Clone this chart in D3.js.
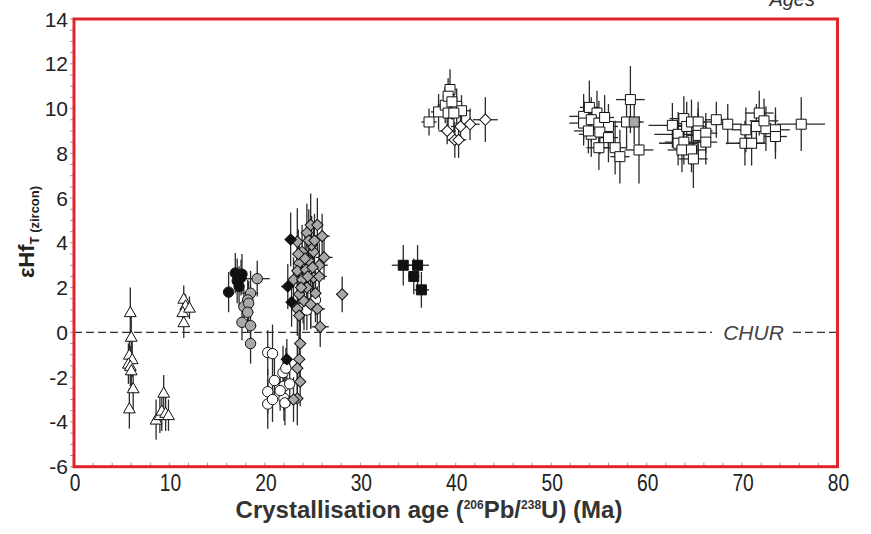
<!DOCTYPE html>
<html><head><meta charset="utf-8">
<script src="https://cdn.jsdelivr.net/npm/d3@7"></script>
<style>body{margin:0;background:#fff}svg{display:block}</style>
</head><body>
<svg id="c" width="871" height="534"></svg>
<script>
// ---- data: [age (Ma), eHf, ageErr, eHfErr] ----
const whiteTriangles = [
 [5.9,0.9,0.3,1.1],[6.0,-0.2,0.3,1.0],[5.8,-1.0,0.3,0.8],[6.1,-1.2,0.3,0.8],[5.7,-1.4,0.3,0.9],
 [5.9,-1.5,0.3,0.9],[6.0,-1.7,0.3,0.8],[6.2,-2.5,0.3,1.0],[5.8,-3.4,0.3,0.9],
 [8.6,-3.9,0.4,0.9],[9.0,-3.7,0.4,0.8],[9.2,-3.5,0.4,0.9],[9.4,-2.7,0.3,0.8],[9.6,-3.6,0.4,0.8],[9.9,-3.7,0.3,0.7],
 [11.5,1.5,0.3,0.6],[11.7,1.2,0.3,0.5],[11.4,0.9,0.3,0.6],[11.5,0.45,0.3,0.7],[12.1,1.1,0.3,0.5]
];
const blackCircles = [
 [16.2,1.8,0.4,0.9],[16.9,2.65,0.4,0.9],[17.6,2.6,0.4,0.9],[17.3,2.05,0.4,0.9],[17.1,2.3,0.3,1.0],[17.5,2.45,0.3,0.8]
];
const grayCircles = [
 [19.2,2.4,1.3,0.8],[18.5,1.75,0.8,1.0],[18.2,1.45,0.6,0.9],[17.8,1.15,0.5,0.8],[18.3,1.3,0.5,1.0],
 [18.2,0.9,0.6,0.9],[17.6,0.45,0.5,0.8],[18.5,0.3,0.6,0.9],[18.5,-0.5,0.5,0.9]
];
const whiteCircles = [
 [20.3,-0.9,0.5,1.0],[20.8,-0.95,0.5,1.3],[21.0,-2.15,0.5,1.0],[20.3,-2.65,0.5,1.0],[20.3,-3.2,0.5,1.1],
 [20.8,-3.0,0.5,1.0],[21.9,-1.8,0.4,1.2],[22.2,-1.6,0.4,0.9],[22.0,-2.4,0.4,1.1],[22.6,-2.3,0.5,1.0],
 [22.0,-2.95,0.4,1.0],[22.1,-3.15,0.4,1.0],[21.6,-2.6,0.4,0.9],
 [24.0,1.4,0.6,1.0],[24.8,1.3,0.5,1.1],[25.3,1.45,0.5,1.0],[23.7,1.05,0.5,1.0],[24.4,1.0,0.5,0.9]
];
const blackDiamonds = [
 [22.3,-1.2,0.4,0.9],[22.7,4.15,0.4,1.2],[22.4,2.05,0.7,1.0],[22.8,1.35,0.4,1.1]
];
const grayDiamonds = [
 [23.7,-0.5,0.4,1.3],[23.6,-1.2,0.4,1.2],[23.4,-1.6,0.4,1.1],[23.7,-2.2,0.4,1.1],[23.4,-2.95,0.4,1.2],[23.0,-3.0,0.4,1.0],
 [25.8,0.25,0.9,0.9],
 [24.8,4.8,0.6,1.4],[25.5,4.8,0.6,1.2],[26.0,4.3,0.8,1.0],[24.4,4.45,0.5,1.3],[23.4,4.05,0.5,1.5],
 [23.9,3.6,0.6,1.2],[25.1,3.6,0.6,1.2],[26.2,3.35,0.9,1.0],[23.6,3.1,0.5,1.1],[24.6,3.2,0.5,1.2],
 [25.7,3.0,0.9,1.0],[23.4,2.75,0.5,1.1],[24.3,2.8,0.6,1.0],[25.1,2.45,0.5,1.1],[23.0,2.35,0.5,1.0],
 [23.9,2.35,0.5,1.1],[25.7,2.5,0.8,1.0],[24.4,2.0,0.5,1.2],[23.6,1.7,0.5,1.1],[25.3,1.75,0.5,1.0],
 [24.1,1.4,0.5,1.3],[24.8,1.25,0.6,1.1],[25.5,1.05,0.8,1.0],[23.4,1.05,0.5,1.2],[23.6,0.75,0.5,1.0],
 [24.9,3.9,0.5,1.3],[24.2,3.3,0.5,1.2],[25.0,2.9,0.6,1.2],[23.8,2.0,0.5,1.1],[24.6,4.1,0.5,1.4],
 [25.2,4.1,0.5,1.2],[24.5,2.5,0.6,1.1],[23.5,3.5,0.5,1.1],
 [28.1,1.7,0.6,0.8]
];
const blackSquares = [
 [34.5,3.0,1.2,0.9],[36.0,3.0,1.2,0.9],[35.6,2.5,0.6,0.8],[36.4,1.9,0.8,0.8]
];
const whiteDiamonds = [
 [39.1,9.0,0.9,0.6],[40.5,9.2,1.0,0.7],[41.5,9.3,1.0,0.7],[43.1,9.5,1.3,1.0],[39.9,8.6,0.8,0.8],[40.3,8.6,0.8,0.8]
];
const whiteSquares = [
 [37.2,9.4,0.8,0.6],[38.2,9.85,0.8,0.8],[38.9,10.15,0.8,0.8],[39.4,10.85,0.6,0.9],[39.2,10.55,0.6,0.8],
 [39.2,9.8,0.7,0.9],[40.1,10.1,0.8,0.8],[40.6,9.9,1.0,0.7],[39.8,9.8,0.6,0.9],[39.6,10.3,0.6,0.8],
 [53.4,9.65,1.5,1.0],[54.0,10.05,1.0,1.2],[54.8,9.8,1.2,1.0],[53.4,9.35,1.5,1.0],[54.2,9.5,1.4,1.0],
 [55.0,9.35,1.2,1.0],[56.0,9.2,1.0,1.0],[54.2,8.85,1.3,1.0],[55.1,8.95,1.2,1.0],[56.0,8.7,1.0,1.1],
 [55.0,8.25,1.3,1.0],[56.7,8.25,1.2,1.2],[57.2,7.85,1.0,1.2],[57.9,9.4,1.5,1.2],[58.3,10.4,1.5,1.5],
 [59.2,8.15,1.5,1.5],[53.9,9.0,1.5,1.0],[55.6,9.6,1.0,1.0],
 [62.7,9.25,2.5,1.0],[63.3,8.85,2.5,1.0],[63.9,9.55,1.5,1.0],[64.2,9.2,2.0,1.1],[63.3,8.45,2.0,1.0],
 [63.9,8.5,2.0,1.0],[64.7,9.4,1.5,1.0],[65.4,9.4,1.5,0.9],[65.4,9.0,1.5,1.0],[65.4,8.8,1.2,1.0],
 [66.2,8.9,1.2,0.9],[66.2,8.5,1.2,1.0],[63.7,8.15,1.5,1.0],[64.7,8.15,1.5,1.0],[64.9,7.75,1.5,1.3],
 [67.3,9.5,1.2,0.8],[68.5,9.3,1.5,0.9],[70.3,8.45,2.0,1.0],[71.0,8.45,1.5,1.0],[70.4,9.05,1.5,1.0],
 [71.8,9.8,1.5,1.0],[71.5,9.2,1.5,1.0],[72.5,9.1,1.5,1.0],[73.5,9.05,1.5,1.0],[73.5,8.75,1.2,1.0],
 [76.2,9.3,2.5,1.2],[72.3,9.45,1.5,1.0]
];
const graySquares = [[58.7,9.4,1.0,1.0]];

const xTicks = [0,10,20,30,40,50,60,70,80];
const yTicks = [-6,-4,-2,0,2,4,6,8,10,12,14];

// ---- drawing ----
const svg = d3.select("#c");
const L = 74, R = 837.5, T = 19, B = 466.7;
const x = d3.scaleLinear().domain([0,80]).range([L,R]);
const y = d3.scaleLinear().domain([-6,14]).range([B,T]);

const series = [
 {d:whiteTriangles, shape:"tri", fill:"#fff"},
 {d:blackCircles, shape:"circle", fill:"#111"},
 {d:grayCircles, shape:"circle", fill:"#a8a8a8"},
 {d:whiteCircles, shape:"circle", fill:"#fff"},
 {d:grayDiamonds, shape:"diamond", fill:"#a8a8a8"},
 {d:blackDiamonds, shape:"diamond", fill:"#111"},
 {d:blackSquares, shape:"square", fill:"#111"},
 {d:whiteSquares, shape:"square", fill:"#fff"},
 {d:graySquares, shape:"square", fill:"#a8a8a8"},
 {d:whiteDiamonds, shape:"diamond", fill:"#fff"}
];

// minor ticks
const minorY = d3.range(-6, 14.01, 0.5);
svg.append("g").selectAll("line").data(minorY).join("line")
  .attr("x1", L-4).attr("x2", L).attr("y1", d=>y(d)).attr("y2", d=>y(d))
  .attr("stroke","#999").attr("stroke-width",1);
const minorX = d3.range(0, 80.01, 2);
svg.append("g").selectAll("line").data(minorX).join("line")
  .attr("x1", d=>x(d)).attr("x2", d=>x(d)).attr("y1", B).attr("y2", B-4)
  .attr("stroke","#999").attr("stroke-width",1);

// CHUR line
const churGapA = 712, churGapB = 793;
svg.append("line").attr("x1",L).attr("x2",churGapA).attr("y1",y(0)).attr("y2",y(0))
  .attr("stroke","#333").attr("stroke-width",1.4).attr("stroke-dasharray","8,4");
svg.append("line").attr("x1",churGapB).attr("x2",R).attr("y1",y(0)).attr("y2",y(0))
  .attr("stroke","#333").attr("stroke-width",1.4).attr("stroke-dasharray","8,4");
svg.append("text").attr("x",(churGapA+churGapB)/2+1).attr("y",y(0)+7.5)
  .attr("text-anchor","middle").attr("font-family","Liberation Sans, Arial, sans-serif")
  .attr("font-style","italic").attr("font-size",21).attr("fill","#444").text("CHUR");

// error bars
const eb = svg.append("g").attr("stroke","#2a2a2a").attr("stroke-width",1.3);
series.forEach(s=>{
  s.d.forEach(p=>{
    eb.append("line").attr("x1",x(p[0])).attr("x2",x(p[0])).attr("y1",y(p[1]-p[3])).attr("y2",y(p[1]+p[3]));
    eb.append("line").attr("x1",x(p[0]-p[2])).attr("x2",x(p[0]+p[2])).attr("y1",y(p[1])).attr("y2",y(p[1]));
  });
});

// markers
const sym = {
  tri: d3.symbol().type(d3.symbolTriangle).size(60)(),
  circle: d3.symbol().type(d3.symbolCircle).size(85)(),
  square: d3.symbol().type(d3.symbolSquare).size(100)(),
  diamond: d3.symbol().type(d3.symbolSquare).size(64)()
};
series.forEach(s=>{
  svg.append("g").selectAll("path").data(s.d).join("path")
    .attr("d", sym[s.shape])
    .attr("transform", p=>`translate(${x(p[0])},${y(p[1])})` + (s.shape==="diamond"?" rotate(45)":"") + (s.shape==="tri"?" translate(0,1)":""))
    .attr("fill", s.fill).attr("stroke","#111").attr("stroke-width",1);
});

// frame
svg.append("rect").attr("x",L).attr("y",T).attr("width",R-L).attr("height",B-T)
  .attr("fill","none").attr("stroke","#e0242c").attr("stroke-width",3);

// tick labels
const font = "Liberation Sans, Arial, sans-serif";
svg.append("g").selectAll("text").data(yTicks).join("text")
  .attr("x", L-6).attr("y", d=>y(d)+7.5).attr("text-anchor","end")
  .attr("font-family",font).attr("font-size",21).attr("fill","#222").text(d=>d);
svg.append("g").selectAll("text").data(xTicks).join("text")
  .attr("transform", d=>`translate(${x(d)+1},${B+24}) scale(0.8,1)`).attr("text-anchor","middle")
  .attr("font-family",font).attr("font-size",24).attr("fill","#222").text(d=>d);

// x title
const xt = svg.append("text").attr("transform",`translate(429,518) scale(1.0,1)`)
  .attr("text-anchor","middle").attr("font-family",font).attr("font-weight","bold")
  .attr("font-size",24).attr("fill","#333");
xt.append("tspan").text("Crystallisation age (");
xt.append("tspan").attr("font-size",12).attr("dy",-9).text("206");
xt.append("tspan").attr("dy",9).text("Pb/");
xt.append("tspan").attr("font-size",12).attr("dy",-9).text("238");
xt.append("tspan").attr("dy",9).text("U) (Ma)");

// y title
const yt = svg.append("text").attr("transform","translate(34,232) rotate(-90)")
  .attr("text-anchor","middle").attr("font-family",font).attr("font-weight","bold")
  .attr("font-size",22).attr("fill","#222");
yt.append("tspan").text("εHf");
yt.append("tspan").attr("font-size",13).attr("dy",5).text("T (zircon)");

// top-right label
svg.append("text").attr("x",815).attr("y",6).attr("text-anchor","end")
  .attr("font-family",font).attr("font-style","italic").attr("font-size",20).attr("fill","#333").text("Ages");
</script>
</body></html>
